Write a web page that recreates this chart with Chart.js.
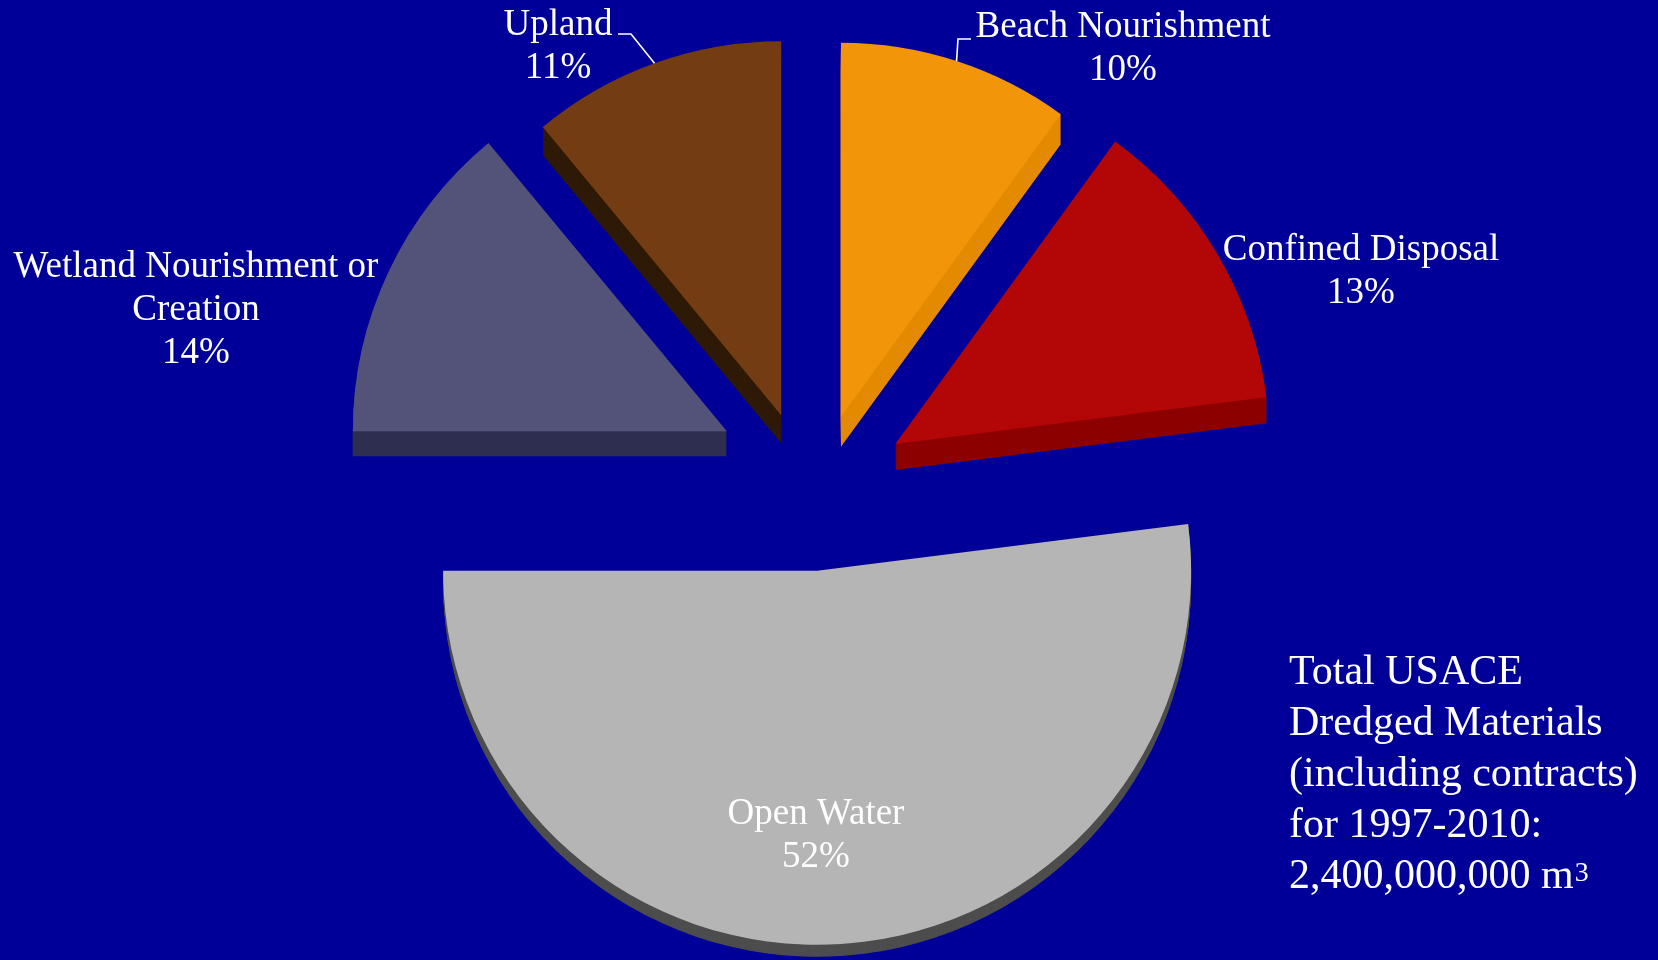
<!DOCTYPE html>
<html>
<head>
<meta charset="utf-8">
<title>USACE Dredged Material Placement</title>
<script src="https://cdn.jsdelivr.net/npm/chart.js@4/dist/chart.umd.min.js"></script>
<style>
  html, body { margin: 0; padding: 0; background: #000099; }
  #wrap { position: relative; width: 1658px; height: 960px; }
</style>
</head>
<body>
<div id="wrap"><canvas id="pie"></canvas></div>
<script>
// Placement categories, clockwise from 12 o'clock
const categories = ['Beach Nourishment', 'Confined Disposal', 'Open Water', 'Wetland Nourishment or Creation', 'Upland'];
// Share of total dredged volume, percent
const shares = [10, 13, 52, 14, 11];
// Category text as printed beside each slice (percent line is added from shares)
const categoryLines = [
  ['Beach Nourishment'],
  ['Confined Disposal'],
  ['Open Water'],
  ['Wetland Nourishment or', 'Creation'],
  ['Upland']
];
// Summary note
const noteLines = ['Total USACE', 'Dredged Materials', '(including contracts)', 'for 1997-2010:', '2,400,000,000 m'];
const noteSup = '3';

// ---- styling ----
const faceColors = ['#F39509', '#B30606', '#B5B5B5', '#53537A', '#743C12'];
const sideColors = ['#E48A00', '#8C0000', '#4D4D4D', '#2F2F52', '#2E1806'];
const explodeDist = [97, 98, 97, 93, 88];      // how far each slice is pulled out
const explodeLift = [0.62, 0.6, 1, 1.08, 0.71]; // vertical foreshortening of that pull
const sideDepth = [30, 26, 12, 25, 28];        // visible thickness of each slice
const labelAnchors = [[1123, 37], [1361, 260], [816, 824], [196, 277], [558, 35]];
const leaderStarts = { 0: [[971, 39], [958, 39]], 4: [[618, 34], [631, 34]] };
const labelFont = '37px "Liberation Serif", "Times New Roman", serif';
const labelLineHeight = 43;

function sliceShift(arc, i) {
  const mid = (arc.startAngle + arc.endAngle) / 2;
  return [Math.cos(mid) * explodeDist[i], Math.sin(mid) * explodeDist[i] * explodeLift[i]];
}

function flatOptions(color) {
  return {
    backgroundColor: color, borderColor: color, borderWidth: 0, borderAlign: 'center',
    borderRadius: 0, borderJoinStyle: 'round', borderDash: [], borderDashOffset: 0,
    offset: 0, spacing: 0, circular: true, selfJoin: false
  };
}

// Draws exploded slices with a solid side wall under each top face
const explode3d = {
  id: 'explode3d',
  beforeDatasetDraw(chart, args) {
    const ctx = chart.ctx;
    const arcs = chart.getDatasetMeta(args.index).data;
    const shifts = arcs.map(sliceShift);
    arcs.forEach((arc, i) => {
      const saved = arc.options;
      arc.options = flatOptions(sideColors[i]);
      for (let k = sideDepth[i]; k >= 1; k--) {
        ctx.save();
        ctx.translate(shifts[i][0], shifts[i][1] + k);
        arc.draw(ctx);
        ctx.restore();
      }
      arc.options = saved;
    });
    arcs.forEach((arc, i) => {
      ctx.save();
      ctx.translate(shifts[i][0], shifts[i][1]);
      arc.draw(ctx);
      ctx.restore();
    });
    return false;
  }
};

// Category labels, leader lines and the summary note
const annotations = {
  id: 'annotations',
  afterDraw(chart) {
    const ctx = chart.ctx;
    const arcs = chart.getDatasetMeta(0).data;
    ctx.save();
    ctx.fillStyle = '#FFFFFF';
    ctx.strokeStyle = '#FFFFFF';
    ctx.textBaseline = 'alphabetic';
    ctx.textAlign = 'center';
    ctx.font = labelFont;
    categories.forEach((name, i) => {
      const lines = categoryLines[i].concat([shares[i] + '%']);
      const [ax, ay] = labelAnchors[i];
      lines.forEach((t, j) => ctx.fillText(t, ax, ay + j * labelLineHeight));
    });
    // leader lines to the middle of the outer rim
    ctx.lineWidth = 1.6;
    Object.keys(leaderStarts).forEach(key => {
      const i = Number(key);
      const arc = arcs[i];
      const [sx, sy] = sliceShift(arc, i);
      const mid = (arc.startAngle + arc.endAngle) / 2;
      const ex = arc.x + sx + Math.cos(mid) * arc.outerRadius;
      const ey = arc.y + sy + Math.sin(mid) * arc.outerRadius;
      const pts = leaderStarts[i];
      ctx.beginPath();
      ctx.moveTo(pts[0][0], pts[0][1]);
      ctx.lineTo(pts[1][0], pts[1][1]);
      ctx.lineTo(ex, ey);
      ctx.stroke();
    });
    // summary note
    ctx.textAlign = 'left';
    ctx.font = '42px "Liberation Serif", "Times New Roman", serif';
    const nx = 1289, ny = 684, nl = 51;
    noteLines.forEach((t, j) => ctx.fillText(t, nx, ny + j * nl));
    const lastW = ctx.measureText(noteLines[noteLines.length - 1]).width;
    ctx.font = '28px "Liberation Serif", "Times New Roman", serif';
    ctx.fillText(noteSup, nx + lastW + 1, ny + (noteLines.length - 1) * nl - 7);
    ctx.restore();
  }
};

new Chart(document.getElementById('pie'), {
  type: 'pie',
  data: {
    labels: categories,
    datasets: [{
      data: shares,
      backgroundColor: faceColors,
      borderWidth: 0,
      radius: 374
    }]
  },
  options: {
    responsive: true,
    maintainAspectRatio: false,
    animation: false,
    events: [],
    layout: { padding: { left: 0, right: 36, top: 0, bottom: 12 } },
    plugins: { legend: { display: false }, tooltip: { enabled: false } }
  },
  plugins: [explode3d, annotations]
});
</script>
</body>
</html>
